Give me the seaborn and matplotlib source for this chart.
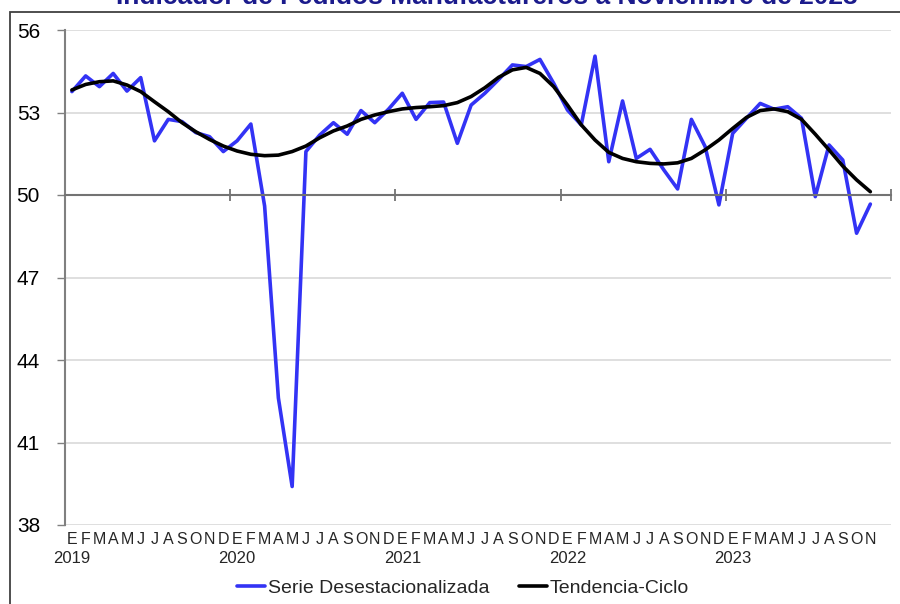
import numpy as np
import pandas as pd
import matplotlib
matplotlib.use("Agg")
import matplotlib.pyplot as plt
from matplotlib.patches import Rectangle
import seaborn as sns

# ---------------- data ----------------
month_letters = ["E", "F", "M", "A", "M", "J", "J", "A", "S", "O", "N", "D"]
years = ["2019", "2020", "2021", "2022", "2023"]

serie = [53.76, 54.33, 53.94, 54.42, 53.78, 54.27, 51.97, 52.75, 52.67, 52.27, 52.12, 51.58,
         51.97, 52.58, 49.60, 42.62, 39.40, 51.58, 52.18, 52.63, 52.21, 53.07, 52.63, 53.12,
         53.70, 52.75, 53.36, 53.38, 51.88, 53.27, 53.70, 54.20, 54.73, 54.67, 54.93, 54.06,
         53.09, 52.55, 55.05, 51.21, 53.42, 51.33, 51.66, 50.91, 50.22, 52.75, 51.76, 49.64,
         52.24, 52.79, 53.33, 53.12, 53.21, 52.79, 49.94, 51.82, 51.27, 48.61, 49.67]

tendencia = [53.82, 54.02, 54.12, 54.15, 54.00, 53.76, 53.39, 53.03, 52.63, 52.30, 52.02, 51.78,
             51.60, 51.48, 51.43, 51.45, 51.58, 51.78, 52.08, 52.33, 52.51, 52.75, 52.91, 53.03,
             53.13, 53.18, 53.21, 53.25, 53.36, 53.58, 53.90, 54.28, 54.55, 54.64, 54.42, 53.94,
             53.27, 52.55, 52.00, 51.55, 51.33, 51.21, 51.15, 51.13, 51.17, 51.33, 51.64, 52.00,
             52.42, 52.82, 53.07, 53.13, 53.03, 52.75, 52.21, 51.64, 51.05, 50.55, 50.12]

y_ticks = [38, 41, 44, 47, 50, 53, 56]
title = "Indicador de Pedidos Manufactureros a Noviembre de 2023"
name_serie = "Serie Desestacionalizada"
name_tend = "Tendencia-Ciclo"

# ---------------- build frame ----------------
n = len(serie)
idx = np.arange(n)
df = pd.DataFrame({
    "idx": np.concatenate([idx, idx]),
    "valor": serie + tendencia,
    "serie": [name_serie] * n + [name_tend] * n,
})

sns.set_theme(style="white")
plt.rcParams["font.family"] = ["Liberation Sans", "DejaVu Sans"]

fig = plt.figure(figsize=(9, 6.04), dpi=100)
W, H = 900, 604
ax = fig.add_axes([65 / W, 1 - 525 / H, (891 - 65) / W, (525 - 30) / H])

sns.lineplot(data=df, x="idx", y="valor", hue="serie",
             palette={name_serie: "#3333F5", name_tend: "#000000"},
             linewidth=2.6, ax=ax, legend=True, sort=False)

n_months = len(years) * 12
ax.set_xlim(-0.5, n_months - 0.5)
ax.set_ylim(min(y_ticks), max(y_ticks))
ax.set_xlabel("")
ax.set_ylabel("")

# y axis
ax.set_yticks(y_ticks)
ax.set_yticklabels([str(v) for v in y_ticks], fontsize=15)
ax.tick_params(axis="y", which="major", direction="out", length=6, width=1,
               color="#808080", pad=12, labelcolor="black", left=True)
for v in y_ticks:
    if v != 50:
        ax.axhline(v, color="#D9D9D9", lw=1.2, zorder=0)

for s in ["top", "right"]:
    ax.spines[s].set_visible(False)
ax.spines["left"].set_color("#808080")
ax.spines["left"].set_linewidth(1.5)

# x axis crossing at 50 with year-boundary ticks
ax.spines["bottom"].set_position(("data", 50))
ax.spines["bottom"].set_color("#737373")
ax.spines["bottom"].set_linewidth(1.5)
bounds = np.arange(0, n_months + 1, 12) - 0.5
ax.set_xticks(bounds)
ax.set_xticklabels([])
ax.tick_params(axis="x", which="major", direction="inout", length=9, width=1.3,
               color="#737373", bottom=True)

# month letters
sec = ax.secondary_xaxis(0.0)
month_pos = np.arange(n)
sec.set_xticks(month_pos)
sec.set_xticklabels([month_letters[i % 12] for i in month_pos], fontsize=11.5)
sec.tick_params(length=0, pad=5)
sec.spines["bottom"].set_visible(False)

# years
sec2 = ax.secondary_xaxis(0.0)
sec2.set_xticks(np.arange(0, n_months, 12))
sec2.set_xticklabels(years, fontsize=12)
sec2.tick_params(length=0, pad=19)
sec2.spines["bottom"].set_visible(False)

# legend
handles, labels = ax.get_legend_handles_labels()
ax.get_legend().remove()
for h in handles:
    h.set_linewidth(2.6)
fig.legend(handles, labels, loc="center", bbox_to_anchor=(463 / W, 1 - 588 / H),
           ncol=2, frameon=False, fontsize=14, handlelength=1.45,
           handletextpad=0.15, columnspacing=1.5)

# title (cut at the top as in the reference)
fig.text(487 / W, 1 - 4 / H, title, ha="center", va="baseline",
         fontsize=19, fontweight="bold", color="#1B1B8C")

# chart-area frame (top and left edges visible)
fig.add_artist(Rectangle((10 / W, -0.1), 2, 1 - 12 / H + 0.1, fill=False,
                         transform=fig.transFigure, ec="#404040", lw=1.3))

fig.savefig("out.png", dpi=100)
